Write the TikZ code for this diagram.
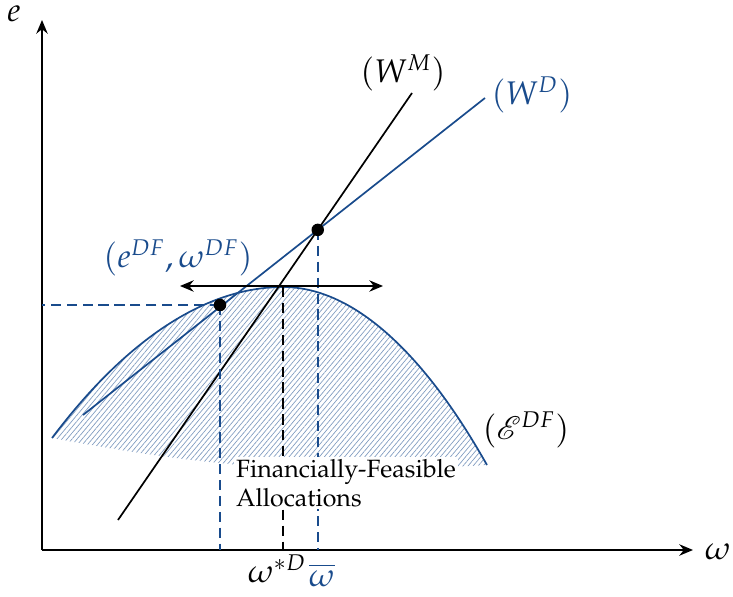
\documentclass[tikz,border=0pt]{standalone}
\usepackage[T1]{fontenc}
\usepackage{mathpazo}
\usepackage{mathrsfs}
\usetikzlibrary{arrows.meta,positioning,patterns.meta,calc}
\definecolor{dblue}{RGB}{25,75,140}
\tikzset{
  axis/.style={-{Stealth[length=6pt,width=5pt]},line width=0.8pt},
  wline/.style={line width=0.75pt},
  guide/.style={line width=0.75pt,dash pattern=on 4.5pt off 2.5pt},
  dot/.style={circle,fill=black,inner sep=0pt,minimum size=5.5pt},
  lbl/.style={font=\Large},
  hatch/.style={pattern={Lines[angle=50,distance=1.7pt,line width=0.3pt]},pattern color=dblue!55},
}

\begin{document}
\begin{tikzpicture}[x=0.44pt,y=-0.44pt]
  \useasboundingbox (0,0) rectangle (733,597);
  \coordinate (o) at (42,550);
  \coordinate (ytop) at (42,20);
  \coordinate (xend) at (693,550);
  \coordinate (eL) at (52,438);
  \coordinate (top) at (283,287);
  \coordinate (eR) at (487,465);
  \coordinate (wdA) at (83,415);
  \coordinate (wdB) at (485,98);
  \coordinate (wmA) at (118,520);
  \coordinate (wmB) at (412,93);
  \coordinate (hl) at (180,286);
  \coordinate (hr) at (383,286);

  % feasible set
  \fill[hatch] (eL) parabola bend (top) (eR) to[bend left=7] (eL);
  \draw[dblue,wline] (eL) parabola bend (top) (eR);

  % axes
  \draw[axis] (o) -- (ytop);
  \draw[axis] (o) -- (xend);
  \node[lbl] (elbl) at (14,14) {$e$};
  \node[lbl] (wlbl) at (718,552) {$\omega$};

  % the two lines
  \draw[wline,dblue] (wdA) -- (wdB);
  \draw[wline] (wmA) -- (wmB);
  \coordinate (cr) at (intersection of wdA--wdB and wmA--wmB);
  \coordinate (dfp) at (220,305);

  % guides
  \draw[guide,dblue] (dfp) -- (dfp -| o);
  \draw[guide,dblue] (dfp) -- (dfp |- o);
  \draw[guide,dblue] (cr) -- (cr |- o);
  \draw[guide] (top) -- (top |- o);

  \draw[{Stealth[length=6pt,width=5pt]}-{Stealth[length=6pt,width=5pt]},line width=0.75pt] (hl) -- (hr);

  \node[dot] (df) at (dfp) {};
  \node[dot] (cross) at (cr) {};

  \node[fill=white,align=left,inner sep=1pt,font=\fontsize{11}{13}\selectfont] (ffa) at (346,483) {Financially-Feasible\\Allocations};

  % labels
  \node[lbl,dblue] (dflbl) at (178,258) {$(e^{DF},\omega^{DF})$};
  \node[lbl] (wmlbl) at (403,73) {$(W^M)$};
  \node[lbl,dblue] (wdlbl) at (532,95) {$(W^D)$};
  \node[lbl] (eflbl) at (526,430) {$(\mathscr{E}^{DF})$};
  \node[lbl] (wslbl) at (277,569) {$\omega^{*D}$};
  \node[lbl,dblue] (wblbl) at (322,575) {$\overline{\omega}$};
\end{tikzpicture}
\end{document}
